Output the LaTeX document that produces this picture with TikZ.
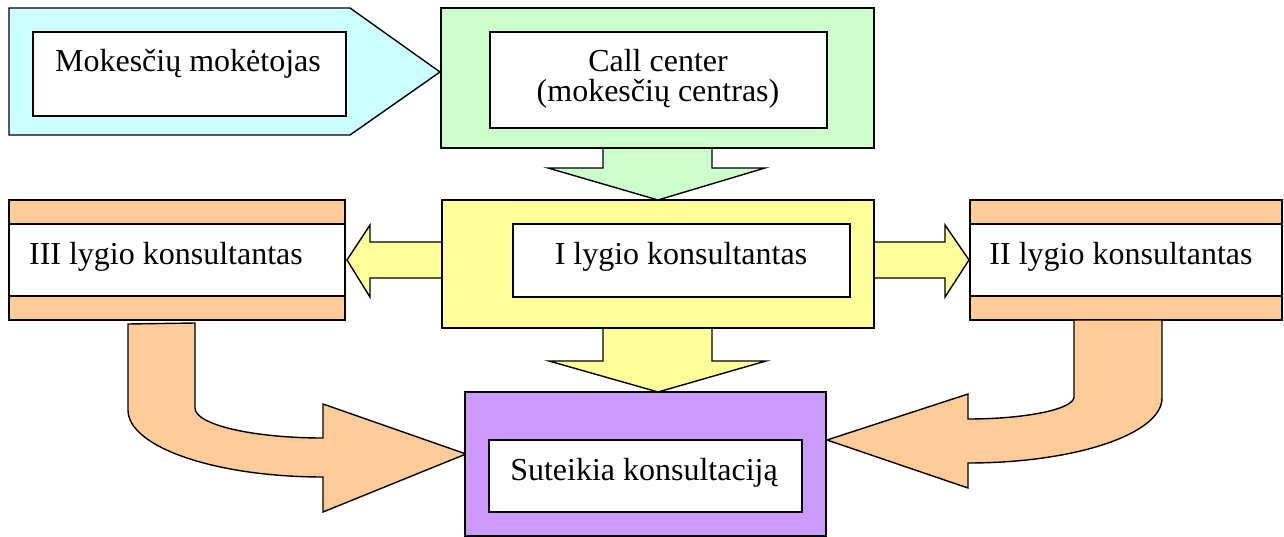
\documentclass[tikz,border=0pt]{standalone}
\usepackage{fontspec}
\setmainfont{Liberation Serif}
\definecolor{cyanfill}{HTML}{CCFFFF}
\definecolor{greenfill}{HTML}{CCFFCC}
\definecolor{yellowfill}{HTML}{FFFF99}
\definecolor{orangefill}{HTML}{FFCC99}
\definecolor{purplefill}{HTML}{CC99FF}
\begin{document}
\begin{tikzpicture}[x=1pt,y=-1pt,
  outline/.style={draw=black,line width=1.4pt,line join=miter},
  panel/.style={outline,rectangle,inner sep=0pt,outer sep=0pt},
  whitebox/.style={panel,fill=white},
  label/.style={inner sep=0pt,anchor=base,font=\fontsize{32}{36}\selectfont}]
\useasboundingbox (0,0) rectangle (1284,537);

% taxpayer: pentagon pointing right
\draw[outline,fill=cyanfill] (9,8) -- (350,8) -- (440,72) -- (350,135) -- (9,135) -- cycle;
\node[whitebox,minimum width=313pt,minimum height=84pt] (payerbox) at (189.5,74) {};
\node[label] (payer) at (188,72) {Mokesčių mokėtojas};

% call centre with its downward block arrow
\draw[outline,fill=greenfill] (603,148) -- (603,168) -- (548,168) -- (658,200)
  -- (765,168) -- (712,168) -- (712,148) -- cycle;
\node[panel,fill=greenfill,minimum width=433pt,minimum height=140pt] (call) at (657.5,78) {};
\node[whitebox,minimum width=337pt,minimum height=96pt] (callbox) at (658.5,80) {};
\node[label] (callA) at (658,72) {Call center};
\node[label] (callB) at (658,102) {(mokesčių centras)};

% first level: arrows to the left, right and down
\draw[outline,fill=yellowfill] (442,242) -- (370,242) -- (370,225) -- (347,260)
  -- (370,297) -- (370,278) -- (442,278) -- cycle;
\draw[outline,fill=yellowfill] (874,242) -- (945,242) -- (945,225) -- (969,260)
  -- (945,297) -- (945,278) -- (874,278) -- cycle;
\draw[outline,fill=yellowfill] (603,328) -- (603,361) -- (549,361) -- (658,392)
  -- (766,361) -- (712,361) -- (712,328) -- cycle;
\node[panel,fill=yellowfill,minimum width=432pt,minimum height=128pt] (lvlone) at (658,264) {};
\node[whitebox,minimum width=337pt,minimum height=73pt] (lvlonebox) at (681.5,260.5) {};
\node[label] (lvlonetext) at (681,265) {I lygio konsultantas};

% third level (left)
\node[panel,fill=orangefill,minimum width=336pt,minimum height=120pt] (lvlthree) at (177,260) {};
\node[whitebox,minimum width=336pt,minimum height=72pt] (lvlthreebox) at (177,260) {};
\node[label] (lvlthreetext) at (166,265) {III lygio konsultantas};

% second level (right)
\node[panel,fill=orangefill,minimum width=312pt,minimum height=120pt] (lvltwo) at (1126,260) {};
\node[whitebox,minimum width=312pt,minimum height=72pt] (lvltwobox) at (1126,260) {};
\node[label] (lvltwotext) at (1121,265) {II lygio konsultantas};

% curved block arrows into the result
\draw[outline,fill=orangefill] (128,324) -- (195,323) -- (195,408)
  .. controls (195,424.6) and (252.3,438) .. (323,438)
  -- (323,404) -- (466,454) -- (323,512) -- (323,477)
  .. controls (215.4,477) and (128,447) .. (128,410) -- cycle;
\draw[outline,fill=orangefill] (1074,320) -- (1074,397)
  .. controls (1074,409) and (1026.5,419) .. (968,419)
  -- (968,394) -- (827,440) -- (968,488) -- (968,463)
  .. controls (1075,463) and (1162,434) .. (1162,398) -- (1162,320) -- cycle;

% result
\node[panel,fill=purplefill,minimum width=361pt,minimum height=144pt] (result) at (645.5,464) {};
\node[whitebox,minimum width=313pt,minimum height=72pt] (resultbox) at (645.5,476) {};
\node[label] (resulttext) at (644,480) {Suteikia konsultaciją};
\end{tikzpicture}
\end{document}
